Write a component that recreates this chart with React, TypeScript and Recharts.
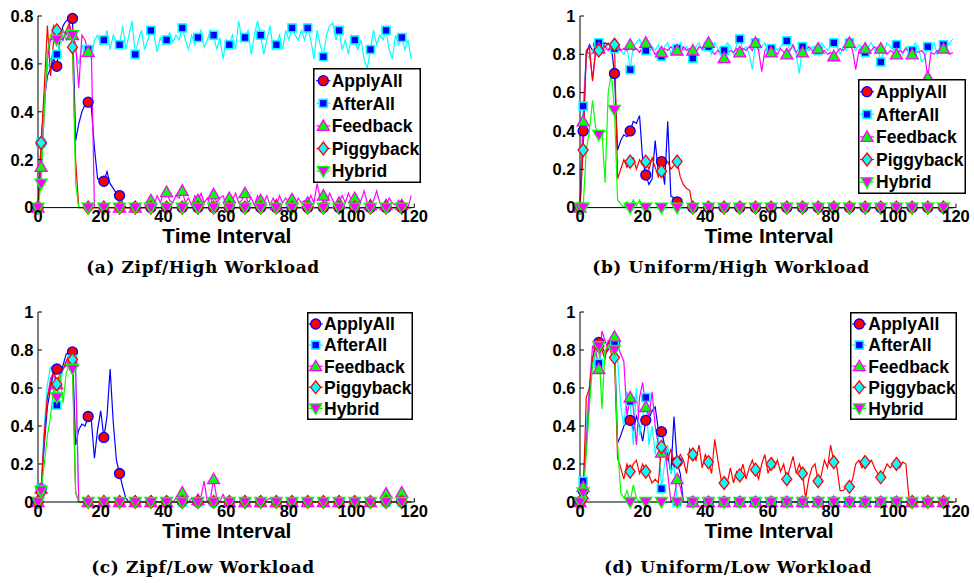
import React from 'react';
import { LineChart, Line, XAxis, YAxis } from 'recharts';

// x ticks and marker positions shared by all four panels
const X_TICKS = [0, 20, 40, 60, 80, 100, 120];
const Y_TICKS_08 = [0, 0.2, 0.4, 0.6, 0.8];
const Y_TICKS_1 = [0, 0.2, 0.4, 0.6, 0.8, 1];
const MARKER_AT = [0, 1, 6, 11, 16, 21, 26, 31, 36, 41, 46, 51, 56, 61, 66, 71, 76, 81, 86, 91, 96, 101, 106, 111, 116];

// (a) Zipf / High workload
const ZH_APPLY = [
  0, 0.27, 0.45, 0.55, 0.58, 0.62, 0.59, 0.70, 0.76, 0.78,
  0.79, 0.79, 0.28, 0.35, 0.40, 0.43, 0.44, 0.42, 0.25, 0.12,
  0.12, 0.11, 0.15, 0.10, 0.08, 0.06, 0.05, 0.02, 0, 0,
  0, 0, 0, 0, 0, 0, 0, 0, 0, 0,
  0, 0, 0, 0, 0, 0, 0, 0, 0, 0,
  0, 0, 0, 0, 0, 0, 0, 0, 0, 0,
  0, 0, 0, 0, 0, 0, 0, 0, 0, 0,
  0, 0, 0, 0, 0, 0, 0, 0, 0, 0,
  0, 0, 0, 0, 0, 0, 0, 0, 0, 0,
  0, 0, 0, 0, 0, 0, 0, 0, 0, 0,
  0, 0, 0, 0, 0, 0, 0, 0, 0, 0,
  0, 0, 0, 0, 0, 0, 0, 0, 0, 0,
];
const ZH_AFTER = [
  0, 0.27, 0.45, 0.58, 0.62, 0.65, 0.64, 0.68, 0.70, 0.74,
  0.70, 0.72, 0.65, 0.60, 0.68, 0.64, 0.66, 0.62, 0.70, 0.72,
  0.68, 0.70, 0.74, 0.66, 0.72, 0.69, 0.68, 0.76, 0.66, 0.72,
  0.78, 0.64, 0.70, 0.74, 0.66, 0.70, 0.74, 0.72, 0.65, 0.71,
  0.68, 0.70, 0.73, 0.69, 0.72, 0.70, 0.75, 0.70, 0.66, 0.72,
  0.68, 0.71, 0.74, 0.67, 0.70, 0.74, 0.72, 0.66, 0.71, 0.62,
  0.70, 0.68, 0.72, 0.66, 0.78, 0.70, 0.71, 0.74, 0.64, 0.72,
  0.78, 0.72, 0.64, 0.70, 0.76, 0.66, 0.68, 0.72, 0.66, 0.74,
  0.70, 0.75, 0.72, 0.70, 0.74, 0.70, 0.75, 0.70, 0.62, 0.74,
  0.68, 0.63, 0.72, 0.76, 0.77, 0.70, 0.74, 0.66, 0.70, 0.64,
  0.72, 0.70, 0.66, 0.70, 0.62, 0.58, 0.66, 0.74, 0.68, 0.72,
  0.70, 0.74, 0.66, 0.62, 0.72, 0.68, 0.71, 0.66, 0.70, 0.62,
];
const ZH_FEEDBACK = [
  0, 0.17, 0.40, 0.62, 0.70, 0.76, 0.72, 0.70, 0.74, 0.72,
  0.76, 0.72, 0.68, 0.50, 0.72, 0.70, 0.65, 0.66, 0, 0,
  0, 0, 0, 0, 0, 0, 0, 0, 0, 0,
  0, 0, 0, 0, 0, 0.02, 0.03, 0.01, 0.05, 0.02,
  0.06, 0.065, 0.03, 0.02, 0.05, 0.04, 0.07, 0.02, 0.04, 0.01,
  0.05, 0.03, 0.06, 0.02, 0.04, 0.01, 0.055, 0.02, 0.04, 0.05,
  0.01, 0.04, 0.03, 0.06, 0.02, 0.03, 0.06, 0.02, 0.04, 0.01,
  0.05, 0.03, 0.02, 0.05, 0.01, 0.04, 0.01, 0.05, 0.02, 0.04,
  0.02, 0.035, 0.01, 0.04, 0.02, 0.03, 0.02, 0.05, 0.02, 0.10,
  0.04, 0.05, 0.02, 0.06, 0.03, 0.01, 0.02, 0.05, 0.02, 0.06,
  0.03, 0.04, 0.01, 0.03, 0.07, 0.02, 0.01, 0.03, 0.07, 0.02,
  0.01, 0.01, 0.04, 0.02, 0.01, 0.03, 0.01, 0.02, 0, 0.05,
];
const ZH_PIGGY = [
  0, 0.27, 0.50, 0.76, 0.55, 0.70, 0.74, 0.72, 0.70, 0.74,
  0.77, 0.67, 0.20, 0, 0, 0, 0, 0, 0, 0,
  0, 0, 0, 0, 0, 0, 0, 0, 0, 0,
  0, 0, 0, 0, 0, 0, 0, 0, 0, 0,
  0, 0, 0, 0, 0, 0, 0, 0, 0, 0,
  0, 0, 0, 0, 0, 0, 0, 0, 0, 0,
  0, 0, 0, 0, 0, 0, 0, 0, 0, 0,
  0, 0, 0, 0, 0, 0, 0, 0, 0, 0,
  0, 0, 0, 0, 0, 0, 0, 0, 0, 0,
  0, 0, 0, 0, 0, 0, 0, 0, 0, 0,
  0, 0, 0, 0, 0, 0, 0, 0, 0, 0,
  0, 0, 0, 0, 0, 0, 0, 0, 0, 0,
];
const ZH_HYBRID = [
  0, 0.10, 0.40, 0.65, 0.72, 0.70, 0.70, 0.72, 0.74, 0.70,
  0.73, 0.72, 0.10, 0, 0, 0, 0, 0, 0, 0,
  0, 0, 0, 0, 0, 0, 0, 0, 0, 0,
  0, 0, 0, 0, 0, 0, 0, 0, 0, 0,
  0, 0, 0, 0, 0, 0, 0, 0, 0, 0,
  0, 0, 0, 0, 0, 0, 0, 0, 0, 0,
  0, 0, 0, 0, 0, 0, 0, 0, 0, 0,
  0, 0, 0, 0, 0, 0, 0, 0, 0, 0,
  0, 0, 0, 0, 0, 0, 0, 0, 0, 0,
  0, 0, 0, 0, 0, 0, 0, 0, 0, 0,
  0, 0, 0, 0, 0, 0, 0, 0, 0, 0,
  0, 0, 0, 0, 0, 0, 0, 0, 0, 0,
];

// (b) Uniform / High workload
const UH_APPLY = [
  0, 0.40, 0.80, 0.85, 0.82, 0.84, 0.85, 0.84, 0.86, 0.85,
  0.84, 0.70, 0.30, 0.35, 0.38, 0.37, 0.40, 0.45, 0.44, 0.48,
  0.25, 0.17, 0.12, 0.15, 0.35, 0.18, 0.24, 0.12, 0.45, 0.06,
  0.05, 0.03, 0, 0, 0, 0, 0, 0, 0, 0,
  0, 0, 0, 0, 0, 0, 0, 0, 0, 0,
  0, 0, 0, 0, 0, 0, 0, 0, 0, 0,
  0, 0, 0, 0, 0, 0, 0, 0, 0, 0,
  0, 0, 0, 0, 0, 0, 0, 0, 0, 0,
  0, 0, 0, 0, 0, 0, 0, 0, 0, 0,
  0, 0, 0, 0, 0, 0, 0, 0, 0, 0,
  0, 0, 0, 0, 0, 0, 0, 0, 0, 0,
  0, 0, 0, 0, 0, 0, 0, 0, 0, 0,
];
const UH_AFTER = [
  0, 0.53, 0.80, 0.78, 0.82, 0.84, 0.86, 0.84, 0.82, 0.85,
  0.84, 0.83, 0.84, 0.82, 0.80, 0.84, 0.72, 0.84, 0.86, 0.88,
  0.83, 0.82, 0.86, 0.84, 0.82, 0.85, 0.79, 0.84, 0.86, 0.80,
  0.84, 0.83, 0.86, 0.82, 0.84, 0.80, 0.78, 0.84, 0.86, 0.82,
  0.85, 0.84, 0.80, 0.86, 0.83, 0.80, 0.82, 0.86, 0.84, 0.80,
  0.85, 0.88, 0.82, 0.84, 0.80, 0.72, 0.86, 0.82, 0.84, 0.86,
  0.80, 0.83, 0.85, 0.82, 0.84, 0.86, 0.87, 0.82, 0.84, 0.80,
  0.70, 0.84, 0.86, 0.82, 0.84, 0.80, 0.82, 0.86, 0.84, 0.82,
  0.85, 0.86, 0.84, 0.80, 0.84, 0.82, 0.86, 0.84, 0.82, 0.85,
  0.84, 0.81, 0.84, 0.86, 0.82, 0.84, 0.76, 0.82, 0.86, 0.84,
  0.82, 0.85, 0.84, 0.80, 0.84, 0.82, 0.82, 0.86, 0.84, 0.76,
  0.78, 0.84, 0.82, 0.86, 0.80, 0.84, 0.85, 0.84, 0.86, 0.88,
];
const UH_FEEDBACK = [
  0, 0.45, 0.80, 0.81, 0.67, 0.82, 0.83, 0.82, 0.84, 0.82,
  0.84, 0.85, 0.82, 0.82, 0.83, 0.82, 0.85, 0.82, 0.83, 0.81,
  0.84, 0.86, 0.82, 0.83, 0.80, 0.82, 0.81, 0.83, 0.82, 0.84,
  0.82, 0.82, 0.80, 0.84, 0.82, 0.83, 0.82, 0.81, 0.84, 0.83,
  0.82, 0.86, 0.82, 0.80, 0.82, 0.80, 0.78, 0.80, 0.82, 0.81,
  0.83, 0.81, 0.83, 0.82, 0.84, 0.82, 0.86, 0.82, 0.71, 0.82,
  0.84, 0.81, 0.82, 0.80, 0.83, 0.81, 0.80, 0.82, 0.85, 0.81,
  0.83, 0.81, 0.82, 0.84, 0.82, 0.80, 0.83, 0.81, 0.82, 0.80,
  0.81, 0.79, 0.81, 0.83, 0.82, 0.84, 0.86, 0.82, 0.72, 0.82,
  0.84, 0.83, 0.81, 0.82, 0.84, 0.82, 0.83, 0.81, 0.80, 0.82,
  0.81, 0.80, 0.82, 0.81, 0.83, 0.81, 0.80, 0.82, 0.81, 0.82,
  0.80, 0.68, 0.81, 0.80, 0.82, 0.81, 0.83, 0.81, 0.80, 0.81,
];
const UH_PIGGY = [
  0, 0.30, 0.82, 0.84, 0.66, 0.82, 0.82, 0.85, 0.84, 0.86,
  0.84, 0.85, 0.15, 0.20, 0.25, 0.21, 0.24, 0.26, 0.20, 0.25,
  0.22, 0.24, 0.20, 0.26, 0.21, 0.16, 0.19, 0.22, 0.24, 0.20,
  0.22, 0.24, 0.16, 0.12, 0.10, 0.09, 0, 0, 0, 0,
  0, 0, 0, 0, 0, 0, 0, 0, 0, 0,
  0, 0, 0, 0, 0, 0, 0, 0, 0, 0,
  0, 0, 0, 0, 0, 0, 0, 0, 0, 0,
  0, 0, 0, 0, 0, 0, 0, 0, 0, 0,
  0, 0, 0, 0, 0, 0, 0, 0, 0, 0,
  0, 0, 0, 0, 0, 0, 0, 0, 0, 0,
  0, 0, 0, 0, 0, 0, 0, 0, 0, 0,
  0, 0, 0, 0, 0, 0, 0, 0, 0, 0,
];
const UH_HYBRID = [
  0, 0, 0.30, 0.40, 0.56, 0.42, 0.38, 0.40, 0.13, 0.60,
  0.70, 0.51, 0.04, 0.02, 0, 0.03, 0, 0.04, 0.01, 0.04,
  0, 0, 0, 0, 0, 0, 0, 0, 0, 0,
  0, 0, 0, 0, 0, 0, 0, 0, 0, 0,
  0, 0, 0, 0, 0, 0, 0, 0, 0, 0,
  0, 0, 0, 0, 0, 0, 0, 0, 0, 0,
  0, 0, 0, 0, 0, 0, 0, 0, 0, 0,
  0, 0, 0, 0, 0, 0, 0, 0, 0, 0,
  0, 0, 0, 0, 0, 0, 0, 0, 0, 0,
  0, 0, 0, 0, 0, 0, 0, 0, 0, 0,
  0, 0, 0, 0, 0, 0, 0, 0, 0, 0,
  0, 0, 0, 0, 0, 0, 0, 0, 0, 0,
];

// (c) Zipf / Low workload
const ZL_APPLY = [
  0, 0.07, 0.30, 0.50, 0.60, 0.68, 0.70, 0.68, 0.72, 0.78,
  0.79, 0.79, 0.30, 0.38, 0.41, 0.40, 0.45, 0.43, 0.23, 0.38,
  0.48, 0.34, 0.45, 0.70, 0.42, 0.22, 0.15, 0.08, 0.02, 0,
  0, 0, 0, 0, 0, 0, 0, 0, 0, 0,
  0, 0, 0, 0, 0, 0, 0, 0, 0, 0,
  0, 0, 0, 0, 0, 0, 0, 0, 0, 0,
  0, 0, 0, 0, 0, 0, 0, 0, 0, 0,
  0, 0, 0, 0, 0, 0, 0, 0, 0, 0,
  0, 0, 0, 0, 0, 0, 0, 0, 0, 0,
  0, 0, 0, 0, 0, 0, 0, 0, 0, 0,
  0, 0, 0, 0, 0, 0, 0, 0, 0, 0,
  0, 0, 0, 0, 0, 0, 0, 0, 0, 0,
];
const ZL_AFTER = [
  0, 0.07, 0.40, 0.62, 0.71, 0.70, 0.51, 0.62, 0.70, 0.74,
  0.76, 0.75, 0.72, 0, 0, 0, 0, 0, 0, 0,
  0, 0, 0, 0, 0, 0, 0, 0, 0, 0,
  0, 0, 0, 0, 0, 0, 0, 0, 0, 0,
  0, 0, 0, 0, 0, 0, 0, 0, 0, 0,
  0, 0, 0, 0, 0, 0, 0, 0, 0, 0,
  0, 0, 0, 0, 0, 0, 0, 0, 0, 0,
  0, 0, 0, 0, 0, 0, 0, 0, 0, 0,
  0, 0, 0, 0, 0, 0, 0, 0, 0, 0,
  0, 0, 0, 0, 0, 0, 0, 0, 0, 0,
  0, 0, 0, 0, 0, 0, 0, 0, 0, 0,
  0, 0, 0, 0, 0, 0, 0, 0, 0, 0,
];
const ZL_FEEDBACK = [
  0, 0.07, 0.35, 0.55, 0.65, 0.68, 0.62, 0.66, 0.70, 0.72,
  0.76, 0.74, 0.70, 0, 0, 0, 0, 0, 0, 0,
  0, 0, 0, 0, 0, 0, 0, 0, 0, 0,
  0, 0, 0, 0, 0, 0, 0, 0, 0, 0,
  0, 0, 0, 0, 0.02, 0, 0.05, 0.01, 0, 0.02,
  0, 0.01, 0.03, 0.11, 0, 0.02, 0.12, 0.02, 0, 0.04,
  0.01, 0, 0, 0, 0, 0, 0, 0, 0, 0,
  0, 0, 0, 0.01, 0.02, 0, 0, 0, 0, 0,
  0, 0, 0, 0, 0, 0, 0, 0, 0, 0,
  0, 0, 0, 0, 0, 0, 0, 0, 0, 0,
  0, 0, 0, 0, 0, 0, 0, 0, 0, 0,
  0.02, 0.044, 0.01, 0, 0, 0.02, 0.05, 0.01, 0, 0,
];
const ZL_PIGGY = [
  0, 0.05, 0.35, 0.55, 0.62, 0.70, 0.62, 0.68, 0.70, 0.74,
  0.78, 0.75, 0.05, 0, 0, 0, 0, 0, 0, 0,
  0, 0, 0, 0, 0, 0, 0, 0, 0, 0,
  0, 0, 0, 0, 0, 0, 0, 0, 0, 0,
  0, 0, 0, 0, 0, 0, 0, 0, 0, 0,
  0, 0, 0, 0, 0, 0, 0, 0, 0, 0,
  0, 0, 0, 0, 0, 0, 0, 0, 0, 0,
  0, 0, 0, 0, 0, 0, 0, 0, 0, 0,
  0, 0, 0, 0, 0, 0, 0, 0, 0, 0,
  0, 0, 0, 0, 0, 0, 0, 0, 0, 0,
  0, 0, 0, 0, 0, 0, 0, 0, 0, 0,
  0, 0, 0, 0, 0, 0, 0, 0, 0, 0,
];
const ZL_HYBRID = [
  0, 0.06, 0.20, 0.35, 0.45, 0.60, 0.55, 0.68, 0.52, 0.68,
  0.72, 0.70, 0.05, 0, 0, 0, 0, 0, 0, 0,
  0, 0, 0, 0, 0, 0, 0, 0, 0, 0,
  0, 0, 0, 0, 0, 0, 0, 0, 0, 0,
  0, 0, 0, 0, 0, 0, 0, 0, 0, 0,
  0, 0, 0, 0, 0, 0, 0, 0, 0, 0,
  0, 0, 0, 0, 0, 0, 0, 0, 0, 0,
  0, 0, 0, 0, 0, 0, 0, 0, 0, 0,
  0, 0, 0, 0, 0, 0, 0, 0, 0, 0,
  0, 0, 0, 0, 0, 0, 0, 0, 0, 0,
  0, 0, 0, 0, 0, 0, 0, 0, 0, 0,
  0, 0, 0, 0, 0, 0, 0, 0, 0, 0,
];

// (d) Uniform / Low workload
const UL_APPLY = [
  0, 0.06, 0.30, 0.55, 0.75, 0.83, 0.84, 0.82, 0.78, 0.80,
  0.83, 0.84, 0.31, 0.35, 0.40, 0.42, 0.43, 0.38, 0.45, 0.40,
  0.32, 0.43, 0.44, 0.48, 0.50, 0.38, 0.37, 0.30, 0.25, 0.15,
  0.45, 0.21, 0.15, 0, 0, 0, 0, 0, 0, 0,
  0, 0, 0, 0, 0, 0, 0, 0, 0, 0,
  0, 0, 0, 0, 0, 0, 0, 0, 0, 0,
  0, 0, 0, 0, 0, 0, 0, 0, 0, 0,
  0, 0, 0, 0, 0, 0, 0, 0, 0, 0,
  0, 0, 0, 0, 0, 0, 0, 0, 0, 0,
  0, 0, 0, 0, 0, 0, 0, 0, 0, 0,
  0, 0, 0, 0, 0, 0, 0, 0, 0, 0,
  0, 0, 0, 0, 0, 0, 0, 0, 0, 0,
];
const UL_AFTER = [
  0, 0.11, 0.40, 0.60, 0.72, 0.78, 0.73, 0.80, 0.78, 0.82,
  0.80, 0.83, 0.75, 0.50, 0.40, 0.58, 0.53, 0.30, 0.60, 0.35,
  0.45, 0.55, 0.30, 0.40, 0.25, 0.35, 0.07, 0.20, 0.30, 0.15,
  0.20, 0, 0, 0, 0, 0, 0, 0, 0, 0,
  0, 0, 0, 0, 0, 0, 0, 0, 0, 0,
  0, 0, 0, 0, 0, 0, 0, 0, 0, 0,
  0, 0, 0, 0, 0, 0, 0, 0, 0, 0,
  0, 0, 0, 0, 0, 0, 0, 0, 0, 0,
  0, 0, 0, 0, 0, 0, 0, 0, 0, 0,
  0, 0, 0, 0, 0, 0, 0, 0, 0, 0,
  0, 0, 0, 0, 0, 0, 0, 0, 0, 0,
  0, 0, 0, 0, 0, 0, 0, 0, 0, 0,
];
const UL_FEEDBACK = [
  0, 0.08, 0.30, 0.60, 0.82, 0.80, 0.70, 0.90, 0.85, 0.80,
  0.82, 0.87, 0.82, 0.78, 0.74, 0.45, 0.55, 0.50, 0.30, 0.55,
  0.63, 0.50, 0.45, 0.58, 0.40, 0.30, 0.26, 0.30, 0.15, 0,
  0.02, 0.12, 0.08, 0, 0, 0, 0, 0, 0, 0,
  0, 0, 0, 0, 0, 0, 0, 0, 0, 0,
  0, 0, 0, 0, 0, 0, 0, 0, 0, 0,
  0, 0, 0, 0, 0, 0, 0, 0, 0, 0,
  0, 0, 0, 0, 0, 0, 0, 0, 0, 0,
  0, 0, 0, 0, 0, 0, 0, 0, 0, 0,
  0, 0, 0, 0, 0, 0, 0, 0, 0, 0,
  0, 0, 0, 0, 0, 0, 0, 0, 0, 0,
  0, 0, 0, 0, 0, 0, 0, 0, 0, 0,
];
const UL_PIGGY = [
  0, 0.02, 0.55, 0.60, 0.75, 0.85, 0.82, 0.80, 0.75, 0.85,
  0.78, 0.76, 0.23, 0.18, 0.12, 0.20, 0.16, 0.20, 0.22, 0.15,
  0.20, 0.16, 0.14, 0.10, 0.12, 0.10, 0.29, 0.25, 0.22, 0.28,
  0.20, 0.21, 0.25, 0.22, 0.15, 0.28, 0.25, 0.22, 0.30, 0.18,
  0.25, 0.21, 0.15, 0.33, 0.22, 0.12, 0.10, 0.10, 0.18, 0.10,
  0.16, 0.14, 0.20, 0.12, 0.18, 0.22, 0.17, 0.12, 0.20, 0.25,
  0.15, 0.20, 0.18, 0.22, 0.16, 0.20, 0.12, 0.18, 0.24, 0.15,
  0.20, 0.15, 0.02, 0.12, 0.18, 0.20, 0.11, 0.14, 0.22, 0.18,
  0.30, 0.21, 0.18, 0.06, 0.06, 0.08, 0.08, 0.12, 0.20, 0.22,
  0.18, 0.21, 0.20, 0.22, 0.18, 0.15, 0.13, 0.16, 0.20, 0.18,
  0.20, 0.20, 0.18, 0.21, 0.20, 0.02, 0, 0, 0, 0,
  0, 0, 0, 0, 0, 0, 0, 0, 0, 0,
];
const UL_HYBRID = [
  0, 0.05, 0.25, 0.50, 0.72, 0.80, 0.82, 0.49, 0.80, 0.82,
  0.80, 0.80, 0.30, 0.05, 0.02, 0.06, 0, 0.09, 0.02, 0,
  0, 0, 0, 0, 0, 0, 0, 0, 0, 0,
  0, 0, 0, 0, 0, 0, 0, 0, 0, 0,
  0, 0, 0, 0, 0, 0, 0, 0, 0, 0,
  0, 0, 0, 0, 0, 0, 0, 0, 0, 0,
  0, 0, 0, 0, 0, 0, 0, 0, 0, 0,
  0, 0, 0, 0, 0, 0, 0, 0, 0, 0,
  0, 0, 0, 0, 0, 0, 0, 0, 0, 0,
  0, 0, 0, 0, 0, 0, 0, 0, 0, 0,
  0, 0, 0, 0, 0, 0, 0, 0, 0, 0,
  0, 0, 0, 0, 0, 0, 0, 0, 0, 0,
];

type Shape = 'circle' | 'square' | 'triUp' | 'diamond' | 'triDown';

interface SeriesStyle {
  key: string;
  name: string;
  line: string;
  shape: Shape;
  fill: string;
  edge: string;
}

const SERIES: SeriesStyle[] = [
  { key: 'apply', name: 'ApplyAll', line: '#0000ff', shape: 'circle', fill: '#ff0000', edge: '#0000ff' },
  { key: 'after', name: 'AfterAll', line: '#00ffff', shape: 'square', fill: '#0000ff', edge: '#00ffff' },
  { key: 'feedback', name: 'Feedback', line: '#ff00ff', shape: 'triUp', fill: '#00ff00', edge: '#ff00ff' },
  { key: 'piggy', name: 'Piggyback', line: '#ff0000', shape: 'diamond', fill: '#00ffff', edge: '#ff0000' },
  { key: 'hybrid', name: 'Hybrid', line: '#00ff00', shape: 'triDown', fill: '#ff00ff', edge: '#00ff00' },
];

const FONT = '"Liberation Sans", Arial, Helvetica, sans-serif';
const CAPTION_FONT = '"DejaVu Serif", "Liberation Serif", serif';

const PANELS = [
  {
    id: 'a', caption: '(a) Zipf/High Workload', captionX: 203, captionTop: 259,
    x0: 37.7, x1: 414, y0: 15.7, y1: 207.3, yMax: 0.8, yTicks: Y_TICKS_08,
    series: [ZH_APPLY, ZH_AFTER, ZH_FEEDBACK, ZH_PIGGY, ZH_HYBRID],
    legend: { left: 313, top: 68, width: 108, height: 115, markerX: 10.3, textX: 18.7, firstRow: 12.7, rowGap: 22.6 },
  },
  {
    id: 'b', caption: '(b) Uniform/High Workload', captionX: 731, captionTop: 259,
    x0: 580, x1: 956, y0: 15.7, y1: 207.3, yMax: 1, yTicks: Y_TICKS_1,
    series: [UH_APPLY, UH_AFTER, UH_FEEDBACK, UH_PIGGY, UH_HYBRID],
    legend: { left: 858, top: 79, width: 108, height: 115, markerX: 9, textX: 18, firstRow: 12.7, rowGap: 22.6 },
  },
  {
    id: 'c', caption: '(c) Zipf/Low Workload', captionX: 203, captionTop: 559,
    x0: 37.7, x1: 414, y0: 311.7, y1: 501.7, yMax: 1, yTicks: Y_TICKS_1,
    series: [ZL_APPLY, ZL_AFTER, ZL_FEEDBACK, ZL_PIGGY, ZL_HYBRID],
    legend: { left: 307, top: 312, width: 106, height: 108, markerX: 8.7, textX: 17, firstRow: 12, rowGap: 21.1 },
  },
  {
    id: 'd', caption: '(d) Uniform/Low Workload', captionX: 738, captionTop: 559,
    x0: 580, x1: 956, y0: 311.7, y1: 501.7, yMax: 1, yTicks: Y_TICKS_1,
    series: [UL_APPLY, UL_AFTER, UL_FEEDBACK, UL_PIGGY, UL_HYBRID],
    legend: { left: 850, top: 312, width: 107, height: 108, markerX: 9.3, textX: 18.3, firstRow: 12, rowGap: 21.1 },
  },
];

const markerSet = new Set(MARKER_AT);

const MarkerShape = ({ s, cx, cy }: { s: SeriesStyle; cx: number; cy: number }) => {
  const common = { fill: s.fill, stroke: s.edge, strokeWidth: 1.3 };
  switch (s.shape) {
    case 'circle':
      return <circle cx={cx} cy={cy} r={5} {...common} />;
    case 'square':
      return <rect x={cx - 4} y={cy - 4} width={8} height={8} {...common} strokeWidth={1.6} />;
    case 'triUp':
      return <polygon points={`${cx},${cy - 6} ${cx - 6},${cy + 4.5} ${cx + 6},${cy + 4.5}`} {...common} />;
    case 'diamond':
      return <polygon points={`${cx},${cy - 6.5} ${cx + 5},${cy} ${cx},${cy + 6.5} ${cx - 5},${cy}`} {...common} />;
    default:
      return <polygon points={`${cx},${cy + 6} ${cx - 6},${cy - 4.5} ${cx + 6},${cy - 4.5}`} {...common} />;
  }
};

const makeDot = (s: SeriesStyle, panelId: string) => (props: any) => {
  const { cx, cy, index } = props;
  const k = `${panelId}-${s.key}-${index}`;
  if (!markerSet.has(index) || cx == null || cy == null) return <g key={k} />;
  return (
    <g key={k}>
      <MarkerShape s={s} cx={cx} cy={cy} />
    </g>
  );
};

const fmtY = (v: number) => (v === 0 ? '0' : String(v));

const LegendBox = ({ box }: { box: any }) => (
  <svg
    style={{ position: 'absolute', left: box.left, top: box.top }}
    width={box.width}
    height={box.height}
  >
    <rect x={0.75} y={0.75} width={box.width - 1.5} height={box.height - 1.5} fill="#fff" stroke="#000" strokeWidth={1.5} />
    {SERIES.map((s, i) => {
      const y = box.firstRow + i * box.rowGap;
      return (
        <g key={s.key}>
          <line x1={box.markerX - 7} x2={box.markerX + 7} y1={y} y2={y} stroke={s.line} strokeWidth={1.2} />
          <MarkerShape s={s} cx={box.markerX} cy={y} />
          <text x={box.textX} y={y} dy="0.36em" fontFamily={FONT} fontWeight={700} fontSize={17.5} fill="#000">
            {s.name}
          </text>
        </g>
      );
    })}
  </svg>
);

const Panel = ({ p }: { p: any }) => {
  const rows = p.series[0].map((_: number, i: number) => {
    const row: any = { t: i };
    SERIES.forEach((s, j) => {
      row[s.key] = p.series[j][i];
    });
    return row;
  });
  const width = p.x1 - p.x0 + 60;
  const height = p.y1 - p.y0 + 42;
  const tickStyle = { fill: '#000', fontSize: 16.5, fontWeight: 700, fontFamily: FONT };

  return (
    <>
      <div style={{ position: 'absolute', left: p.x0 - 40, top: p.y0 - 12 }}>
        <LineChart width={width} height={height} data={rows} margin={{ top: 12, right: 20, left: 0, bottom: 0 }}>
          <XAxis
            type="number"
            dataKey="t"
            domain={[0, 120]}
            ticks={X_TICKS}
            interval={0}
            height={30}
            tickSize={-4}
            tickMargin={7}
            stroke="#000"
            tick={tickStyle}
          />
          <YAxis
            type="number"
            domain={[0, p.yMax]}
            ticks={p.yTicks}
            interval={0}
            width={40}
            tickSize={-4}
            tickMargin={8.5}
            stroke="#000"
            tick={tickStyle}
            tickFormatter={fmtY}
          />
          {SERIES.map((s) => (
            <Line
              key={s.key}
              dataKey={s.key}
              type="linear"
              stroke={s.line}
              strokeWidth={1.2}
              dot={makeDot(s, p.id)}
              activeDot={false}
              isAnimationActive={false}
            />
          ))}
        </LineChart>
      </div>
      <LegendBox box={p.legend} />
      <div
        style={{
          position: 'absolute',
          left: (p.x0 + p.x1) / 2 + 1,
          top: p.y1 + 18,
          transform: 'translateX(-50%)',
          fontFamily: FONT,
          fontWeight: 700,
          fontSize: 21,
          lineHeight: '21px',
          whiteSpace: 'nowrap',
        }}
      >
        Time Interval
      </div>
      <div
        style={{
          position: 'absolute',
          left: p.captionX,
          top: p.captionTop,
          transform: 'translateX(-50%)',
          fontFamily: CAPTION_FONT,
          fontWeight: 700,
          fontSize: 17,
          lineHeight: '17px',
          letterSpacing: '0.6px',
          whiteSpace: 'nowrap',
        }}
      >
        {p.caption}
      </div>
    </>
  );
};

export default function App() {
  return (
    <div style={{ position: 'absolute', left: 0, top: 0, width: 974, height: 583, background: '#fff', overflow: 'hidden' }}>
      {PANELS.map((p) => (
        <Panel key={p.id} p={p} />
      ))}
    </div>
  );
}
